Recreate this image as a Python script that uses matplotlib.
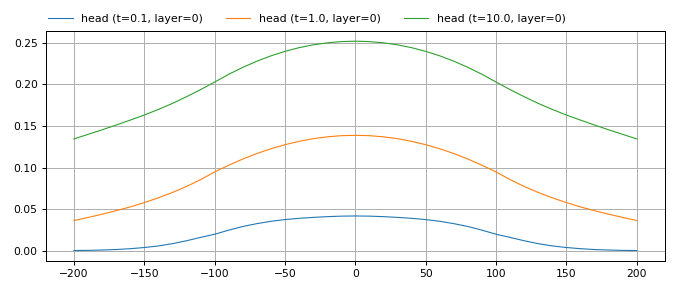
import matplotlib
matplotlib.use("Agg")
import matplotlib.pyplot as plt

x = [-200, -190, -180, -170, -160, -150, -140, -130, -120, -110, -100,
     -90, -80, -70, -60, -50, -40, -30, -20, -10, 0,
     10, 20, 30, 40, 50, 60, 70, 80, 90, 100,
     110, 120, 130, 140, 150, 160, 170, 180, 190, 200]

head_t01 = [0.0008, 0.0010, 0.0014, 0.0020, 0.0030, 0.0044, 0.0063, 0.0090, 0.0125, 0.0165, 0.0203,
            0.0252, 0.0296, 0.0330, 0.0358, 0.0379, 0.0394, 0.0405, 0.0414, 0.0420, 0.0422,
            0.0420, 0.0414, 0.0405, 0.0394, 0.0379, 0.0358, 0.0330, 0.0296, 0.0252, 0.0203,
            0.0165, 0.0125, 0.0090, 0.0063, 0.0044, 0.0030, 0.0020, 0.0014, 0.0010, 0.0008]

head_t1 = [0.0367, 0.0404, 0.0443, 0.0485, 0.0530, 0.0582, 0.0639, 0.0703, 0.0775, 0.0857, 0.0949,
           0.1030, 0.1104, 0.1170, 0.1227, 0.1276, 0.1316, 0.1348, 0.1370, 0.1384, 0.1388,
           0.1384, 0.1370, 0.1348, 0.1316, 0.1276, 0.1227, 0.1170, 0.1104, 0.1030, 0.0949,
           0.0857, 0.0775, 0.0703, 0.0639, 0.0582, 0.0530, 0.0485, 0.0443, 0.0404, 0.0367]

head_t10 = [0.1345, 0.1399, 0.1454, 0.1511, 0.1570, 0.1631, 0.1698, 0.1770, 0.1850, 0.1935, 0.2026,
            0.2119, 0.2202, 0.2276, 0.2340, 0.2394, 0.2438, 0.2472, 0.2496, 0.2511, 0.2516,
            0.2511, 0.2496, 0.2472, 0.2438, 0.2394, 0.2340, 0.2276, 0.2202, 0.2119, 0.2026,
            0.1935, 0.1850, 0.1770, 0.1698, 0.1631, 0.1570, 0.1511, 0.1454, 0.1399, 0.1345]

labels = ["head (t=0.1, layer=0)", "head (t=1.0, layer=0)", "head (t=10.0, layer=0)"]
colors = ["#1f77b4", "#ff7f0e", "#2ca02c"]

DPI = 72
W, H = 674, 292
fig = plt.figure(figsize=(W / DPI, H / DPI), dpi=DPI)
ax = fig.add_axes([45.7 / W, 1 - 261 / H, (665 - 45.7) / W, (261 - 30.7) / H])

for ys, lab, c in zip([head_t01, head_t1, head_t10], labels, colors):
    ax.plot(x, ys, color=c, lw=1.1, label=lab)

ax.grid(True, color="#b0b0b0", lw=1.0)
ax.set_axisbelow(True)
ax.tick_params(labelsize=10.7, length=4, width=1.0, pad=4)
for s in ax.spines.values():
    s.set_linewidth(1.0)

fig.legend(loc="center left", bbox_to_anchor=(48.3 / W, 1 - 19 / H), ncol=3, frameon=False,
           fontsize=11, handlelength=2.2, handletextpad=0.75, columnspacing=2.15,
           borderaxespad=0.0, borderpad=0.0)

fig.savefig("out.png", dpi=DPI)
